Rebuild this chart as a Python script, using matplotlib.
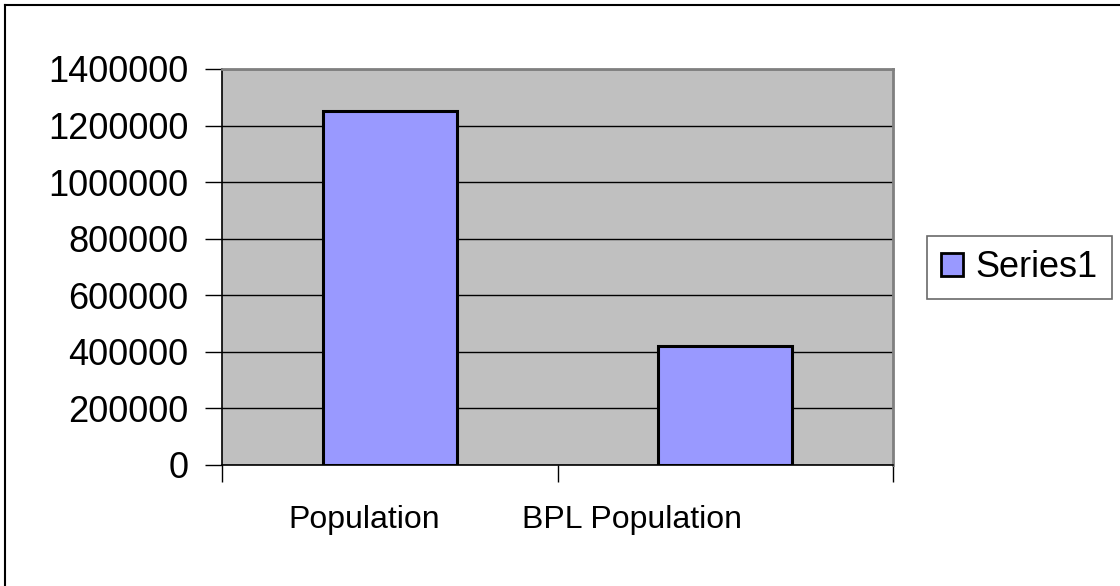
import matplotlib
matplotlib.use("Agg")
import matplotlib.pyplot as plt
import matplotlib.transforms as mtransforms
from matplotlib import font_manager
from matplotlib.lines import Line2D
from matplotlib.patches import Patch

categories = ["Population", "BPL Population"]
values = [1250000, 420000]
series_name = "Series1"
yticks = [0, 200000, 400000, 600000, 800000, 1000000, 1200000, 1400000]

plt.rcParams['font.family'] = ['Liberation Sans', 'DejaVu Sans']

names = {f.name for f in font_manager.fontManager.ttflist}
if 'Liberation Sans Narrow' in names:
    xfont, xsize = 'Liberation Sans Narrow', 26
else:
    xfont, xsize = 'Liberation Sans', 23

W, H = 1120, 586
fig = plt.figure(figsize=(W / 100, H / 100), dpi=100)
fig.patch.set_facecolor('white')

L, R, T, B = 222, 893, 69, 465
ax = fig.add_axes([L / W, 1 - B / H, (R - L) / W, (B - T) / H])
ax.set_facecolor('#C0C0C0')

x = list(range(len(categories)))
ax.bar(x, values, width=0.4, color='#9999FF', edgecolor='black', linewidth=2.2, zorder=3,
       label=series_name)

ax.set_xlim(-0.5, len(categories) - 0.5)
ax.set_ylim(0, 1400000)
ax.set_yticks(yticks)
ax.set_yticklabels([str(v) for v in yticks])
ax.yaxis.grid(True, color='black', linewidth=1.0, zorder=1)
ax.set_axisbelow(True)

ax.set_xticks(x)
ax.set_xticklabels(categories, family=xfont)
ax.set_xticks([i - 0.5 for i in range(len(categories) + 1)], minor=True)
ax.tick_params(axis='x', which='major', length=0, pad=29, labelsize=xsize)
ax.tick_params(axis='x', which='minor', length=12, width=1.0, direction='out', color='black')
ax.tick_params(axis='y', length=12, width=1.0, direction='out', pad=12, labelsize=26)

# shift category labels to match reference positions
offsets = [-26, -93]
for lab, dx in zip(ax.get_xticklabels(), offsets):
    lab.set_transform(lab.get_transform() + mtransforms.ScaledTranslation(dx / 100, 0, fig.dpi_scale_trans))

for s in ['top', 'right']:
    ax.spines[s].set_color('#808080')
    ax.spines[s].set_linewidth(2)
for s in ['left', 'bottom']:
    ax.spines[s].set_color('black')
    ax.spines[s].set_linewidth(1.2)

handle = Patch(facecolor='#9999FF', edgecolor='black', linewidth=2)
leg = fig.legend([handle], [series_name], loc='center left',
                 bbox_to_anchor=(927 / W, 1 - 267.5 / H), fontsize=26,
                 frameon=True, fancybox=False, edgecolor='#444444', handlelength=0.6,
                 handleheight=0.6, handletextpad=0.35, borderpad=0.4, borderaxespad=0)
leg.get_frame().set_linewidth(1.2)

# figure border (top and left visible)
fig.add_artist(Line2D([5 / W, 5 / W], [0, 1 - 5 / H], transform=fig.transFigure, color='black', linewidth=1.5))
fig.add_artist(Line2D([5 / W, 1], [1 - 5 / H, 1 - 5 / H], transform=fig.transFigure, color='black', linewidth=1.5))

fig.savefig('out.png', dpi=100)
